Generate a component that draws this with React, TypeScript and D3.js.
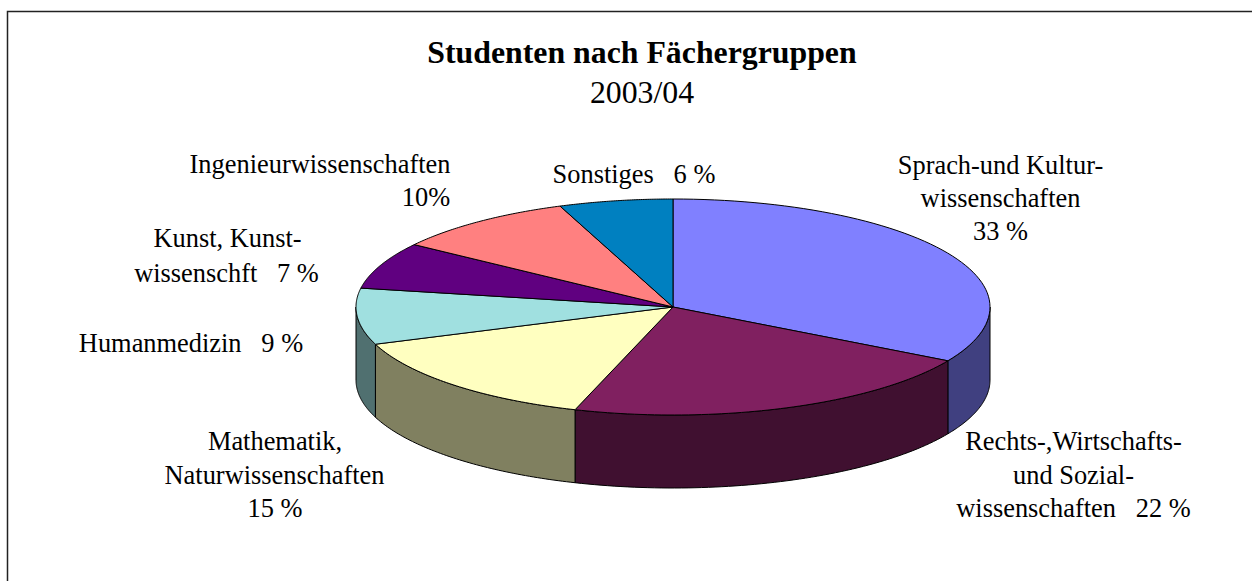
import React from "react";
import * as d3 from "d3";

const categories = [
  "Sprach- und Kulturwissenschaften",
  "Rechts-, Wirtschafts- und Sozialwissenschaften",
  "Mathematik, Naturwissenschaften",
  "Humanmedizin",
  "Kunst, Kunstwissenschaft",
  "Ingenieurwissenschaften",
  "Sonstiges",
];
const plottedValues = [33.3, 21.7, 14.4, 8.4, 7, 9.4, 5.8];
const topColors = ["#8080FF", "#802060", "#FFFFC0", "#A0E0E0", "#600080", "#FF8080", "#0080C0"];
const sideColors = ["#404080", "#401030", "#808060", "#507070", "#300040", "#804040", "#004060"];

const labelLines = [
  { lines: ["Sprach-und Kultur-", "wissenschaften", "33 %"], x: [1000.5, 1000.5, 1000.5], y: [173.5, 207, 240] },
  { lines: ["Rechts-,Wirtschafts-", "und Sozial-", "wissenschaften   22 %"], x: [1073.5, 1073.5, 1073.5], y: [450, 484, 517] },
  { lines: ["Mathematik,", "Naturwissenschaften", "15 %"], x: [275, 274.5, 275], y: [450, 484, 517] },
  { lines: ["Humanmedizin   9 %"], x: [191], y: [352] },
  { lines: ["Kunst, Kunst-", "wissenschft   7 %"], x: [227.5, 226.5], y: [247, 282] },
  { lines: ["Ingenieurwissenschaften", "10%"], x: [320, 426], y: [173, 206] },
  { lines: ["Sonstiges   6 %"], x: [634], y: [183] },
];

const W = 1252;
const H = 581;
const cx = 673;
const cy = 307;
const rx = 317;
const ry = 108;
const depth = 73;
const font = '"Liberation Serif", "Times New Roman", serif';

const pie = d3.pie<number>().sort(null).value((d) => d);
const arcs = pie(plottedValues);
const px = (a: number) => cx + rx * Math.sin(a);
const py = (a: number) => cy - ry * Math.cos(a);

function topPath(a0: number, a1: number) {
  const p = d3.path();
  p.moveTo(cx, cy);
  p.lineTo(px(a0), py(a0));
  const n = 64;
  for (let i = 1; i <= n; i++) {
    const a = a0 + ((a1 - a0) * i) / n;
    p.lineTo(px(a), py(a));
  }
  p.closePath();
  return p.toString();
}

function sidePath(a0: number, a1: number) {
  const lo = Math.max(a0, Math.PI / 2);
  const hi = Math.min(a1, (3 * Math.PI) / 2);
  if (hi <= lo) return null;
  const p = d3.path();
  const n = 64;
  p.moveTo(px(lo), py(lo));
  for (let i = 1; i <= n; i++) {
    const a = lo + ((hi - lo) * i) / n;
    p.lineTo(px(a), py(a));
  }
  for (let i = n; i >= 0; i--) {
    const a = lo + ((hi - lo) * i) / n;
    p.lineTo(px(a), py(a) + depth);
  }
  p.closePath();
  return p.toString();
}

export default function App() {
  return (
    <svg
      width={W}
      height={H}
      viewBox={`0 0 ${W} ${H}`}
      style={{ position: "absolute", left: 0, top: 0, display: "block" }}
    >
      <rect width={W} height={H} fill="#fff" />
      <path d={`M7.5 ${H} V11.5 H${W}`} fill="none" stroke="#222" strokeWidth={1.5} />
      <text x={642} y={62.5} textAnchor="middle" fontFamily={font} fontSize={31.8} fontWeight="bold" fill="#000">
        Studenten nach Fächergruppen
      </text>
      <text x={642} y={103} textAnchor="middle" fontFamily={font} fontSize={31.8} fill="#000">
        2003/04
      </text>
      {arcs.map((d, i) => {
        const s = sidePath(d.startAngle, d.endAngle);
        return s ? (
          <path key={categories[i] + "s"} d={s} fill={sideColors[i]} stroke="#000" strokeWidth={1} strokeLinejoin="round" />
        ) : null;
      })}
      {arcs.map((d, i) => (
        <path key={categories[i]} d={topPath(d.startAngle, d.endAngle)} fill={topColors[i]} stroke="#000" strokeWidth={1} strokeLinejoin="round" />
      ))}
      {labelLines.map((l, i) => (
        <g key={i} fontFamily={font} fontSize={26.4} fill="#000" textAnchor="middle">
          {l.lines.map((t, j) => (
            <text key={j} x={l.x[j]} y={l.y[j]} xmlSpace="preserve" style={{ whiteSpace: "pre" }}>
              {t}
            </text>
          ))}
        </g>
      ))}
    </svg>
  );
}
